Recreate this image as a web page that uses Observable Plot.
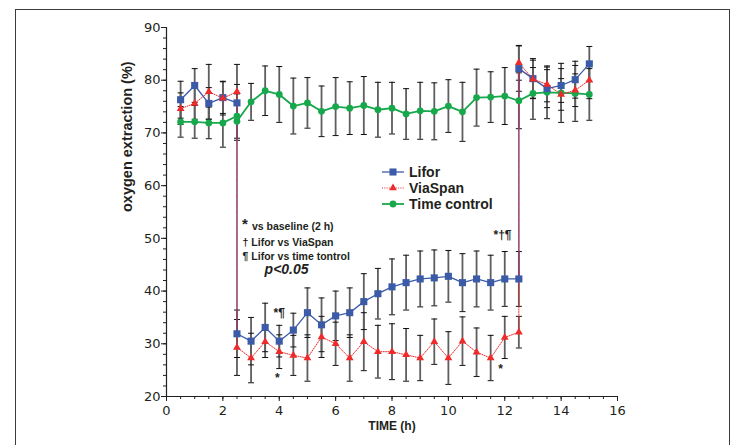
<!DOCTYPE html>
<html><head><meta charset="utf-8">
<script src="https://cdn.jsdelivr.net/npm/d3@7"></script>
<script src="https://cdn.jsdelivr.net/npm/@observablehq/plot@0.6"></script>
<style>
body{margin:0;background:#fff;}
#wrap{position:relative;width:732px;height:445px;overflow:hidden;font-family:"Liberation Sans",Arial,sans-serif;}
#frame{position:absolute;left:15px;top:9px;width:715px;height:470px;border:1.5px solid #3c3c3c;box-sizing:border-box;}
#chart{position:absolute;left:0;top:0;}
#legend{position:absolute;left:382px;top:164px;font-weight:bold;font-size:14px;color:#231f20;}
#legend .row{display:flex;align-items:center;height:16px;}
#legend svg{margin-right:4px;}
</style></head>
<body>
<div id="wrap"><div id="frame"></div><div id="chart"></div><div id="legend"></div></div>
<script>
// ---- data ----
const seriesNames = ["Lifor", "ViaSpan", "Time control"];
const seriesColors = ["#3b5ba8", "#ee2a2a", "#17a84c"];

const liforTime = [0.5,1,1.5,2,2.5, 2.5,3,3.5,4,4.5,5,5.5,6,6.5,7,7.5,8,8.5,9,9.5,10,10.5,11,11.5,12,12.5, 12.5,13,13.5,14,14.5,15];
const liforMean = [76.3,79.0,75.6,76.7,75.7, 31.9,30.5,33.1,30.5,32.6,35.9,33.6,35.3,35.9,38.0,39.5,40.8,41.6,42.3,42.5,42.8,41.6,42.3,41.6,42.3,42.3, 82.2,80.3,78.4,79.0,80.1,83.1];
const liforSd   = [3.5,3.2,3.0,3.0,3.5, 4.5,4.5,4.6,3.0,3.2,4.7,5.1,4.7,4.7,5.3,4.8,5.3,5.2,5.3,5.3,4.9,5.5,5.3,5.2,5.2,5.2, 4.3,3.8,3.6,3.2,3.5,3.3];

const viaTime = liforTime.slice();
const viaMean = [74.6,75.6,77.8,76.6,77.8, 29.3,27.3,30.4,28.5,27.8,27.3,31.3,30.0,27.3,30.4,28.5,28.5,27.9,27.3,30.4,27.3,30.5,28.4,27.3,31.2,32.2, 83.3,80.2,79.2,77.3,78.1,80.0];
const viaSd   = [3.0,3.0,5.2,3.2,5.2, 5.3,4.7,3.0,3.2,3.8,4.4,3.9,4.1,4.4,5.5,5.0,5.3,5.0,4.3,4.3,5.0,4.6,4.6,4.3,4.0,3.0, 3.3,3.6,3.3,3.0,3.1,3.5];

const ctrlTime = [0.5,1,1.5,2,2.5,2.5,3,3.5,4,4.5,5,5.5,6,6.5,7,7.5,8,8.5,9,9.5,10,10.5,11,11.5,12,12.5,13,13.5,14,14.5,15];
const ctrlMean = [72.1,72.1,71.9,71.9,73.2,72.2,75.9,78.0,77.3,75.1,75.7,74.1,75.0,74.7,75.2,74.4,74.7,73.6,74.2,74.1,75.1,74.0,76.7,76.8,77.0,76.1,77.5,77.7,77.6,77.5,77.3];
const ctrlSd   = [2.9,3.1,3.0,4.6,4.2,3.6,3.5,4.7,5.3,5.3,4.8,4.8,5.5,5.0,5.5,5.2,4.9,4.8,5.4,5.4,5.0,5.6,5.4,4.8,5.4,5.3,4.9,5.0,5.6,5.3,4.9];

const xTicks = [0,2,4,6,8,10,12,14,16];
const yTicks = [20,30,40,50,60,70,80,90];
const xLabel = "TIME (h)";
const yLabel = "oxygen extraction (%)";

const noteText = ["vs baseline (2 h)", "\u2020 Lifor vs ViaSpan", "\u00b6 Lifor vs time tontrol"];
const noteX = [3.03, 2.7, 2.7];
const noteY = [52.2, 49.1, 46.5];
const bigStarX = [2.78], bigStarY = [52.7];
const pText = "p<0.05";
const pX = [4.26], pY = [44.0];
const starText = ["*\u00b6", "*", "*\u2020\u00b6", "*"];
const starX = [4.0, 3.93, 11.92, 11.85];
const starY = [35.9, 23.4, 50.6, 25.1];

// ---- build tables ----
const mk = (name, t, m, s) => t.map((x, i) => ({series: name, time: x, mean: m[i], sd: s[i]}));
const lifor = mk("Lifor", liforTime, liforMean, liforSd);
const via = mk("ViaSpan", viaTime, viaMean, viaSd);
const ctrl = mk("Time control", ctrlTime, ctrlMean, ctrlSd);
const all = [...ctrl, ...via, ...lifor];

const cap = {draw(ctx) { ctx.moveTo(-3, 0); ctx.lineTo(3, 0); }};
const tickFont = {fontFamily: "DejaVu Sans, sans-serif", fontSize: 13};
const ink = "#231f20";

const chart = Plot.plot({
  width: 732, height: 445,
  marginLeft: 166, marginRight: 115, marginTop: 27, marginBottom: 49,
  style: {background: "transparent", color: ink, fontFamily: "Liberation Sans, Arial, sans-serif"},
  x: {domain: [0, 16]},
  y: {domain: [20, 90]},
  marks: [
    // minor ticks
    Plot.axisX({ticks: d3.range(0, 16.01, 0.5), tickSize: 3, text: null, label: null, stroke: ink}),
    Plot.axisY({ticks: d3.range(20, 90.01, 2), tickSize: 3, text: null, label: null, stroke: ink}),
    Plot.axisX({ticks: xTicks, tickSize: 5, tickPadding: 4, label: null, tickFormat: d => d, ...tickFont, fill: ink, stroke: ink}),
    Plot.axisY({ticks: yTicks, tickSize: 5, tickPadding: 1, label: null, ...tickFont, fill: ink, stroke: ink}),
    Plot.ruleX([0], {stroke: ink, strokeWidth: 1.2}),
    Plot.ruleY([20], {stroke: ink, strokeWidth: 1.2}),
    // error bars
    Plot.ruleX(all, {x: "time", y1: d => d.mean - d.sd, y2: d => d.mean + d.sd, stroke: "#5e5e5e", strokeWidth: 1.8}),
    Plot.dot(all, {x: "time", y: d => d.mean + d.sd, symbol: cap, stroke: "#111", strokeWidth: 1, fill: "none"}),
    Plot.dot(all, {x: "time", y: d => d.mean - d.sd, symbol: cap, stroke: "#111", strokeWidth: 1, fill: "none"}),
    // lines
    Plot.line(ctrl, {x: "time", y: "mean", stroke: seriesColors[2], strokeWidth: 1.8}),
    Plot.line(lifor, {x: "time", y: "mean", stroke: seriesColors[0], strokeWidth: 1.3}),
    Plot.line(via, {x: "time", y: "mean", stroke: seriesColors[1], strokeWidth: 1, strokeDasharray: "1,1.3"}),
    // markers
    Plot.dot(ctrl, {x: "time", y: "mean", symbol: "circle", r: 3.4, fill: seriesColors[2]}),
    Plot.dot(lifor, {x: "time", y: "mean", symbol: "square", r: 4, fill: seriesColors[0]}),
    Plot.dot(via, {x: "time", y: "mean", symbol: "triangle", r: 2.9, fill: seriesColors[1]}),
    // annotations
    Plot.text(["*"], {x: bigStarX, y: bigStarY, text: d => d, fontWeight: "bold", fontSize: 15, fill: ink}),
    Plot.text(noteText, {x: (d, i) => noteX[i], y: (d, i) => noteY[i], text: d => d, textAnchor: "start", fontWeight: "bold", fontSize: 10.5, fill: ink}),
    Plot.text([pText], {x: pX, y: pY, text: d => d, fontWeight: "bold", fontStyle: "italic", fontSize: 14, fill: ink}),
    Plot.text(starText, {x: (d, i) => starX[i], y: (d, i) => starY[i], text: d => d, fontWeight: "bold", fontSize: 12, fill: ink}),
    // axis labels
    Plot.text([yLabel], {frameAnchor: "left", rotate: -90, dx: -39, text: d => d, fontWeight: "bold", fontSize: 14.5, fill: ink}),
    Plot.text([xLabel], {frameAnchor: "bottom", dy: 33, text: d => d, fontWeight: "bold", fontSize: 12, fill: ink})
  ]
});
document.getElementById("chart").appendChild(chart);

// ---- legend ----
const symbols = [d3.symbolSquare, d3.symbolTriangle, d3.symbolCircle];
const symSizes = [50, 26, 36];
const dashes = [null, "1,1.3", null];
const widths = [1.3, 1.2, 1.8];
const legend = d3.select("#legend");
seriesNames.forEach((name, i) => {
  const row = legend.append("div").attr("class", "row");
  const svg = row.append("svg").attr("width", 23).attr("height", 14);
  svg.append("line").attr("x1", 0).attr("x2", 22).attr("y1", 7).attr("y2", 7)
    .attr("stroke", seriesColors[i]).attr("stroke-width", widths[i]).attr("stroke-dasharray", dashes[i]);
  svg.append("path").attr("transform", "translate(11,7)")
    .attr("d", d3.symbol(symbols[i], symSizes[i])()).attr("fill", seriesColors[i]);
  row.append("span").text(name);
});
</script>
</body></html>
